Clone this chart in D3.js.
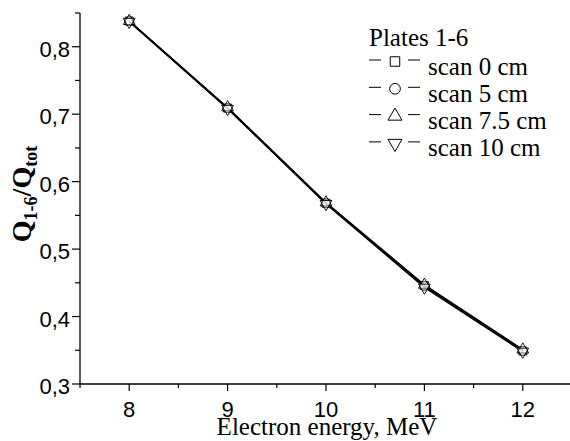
<!DOCTYPE html>
<html><head><meta charset="utf-8">
<script src="https://cdn.jsdelivr.net/npm/d3@7"></script>
<style>body{margin:0;background:#fff}svg{display:block}</style>
</head><body>
<script>
const energies = [8, 9, 10, 11, 12];
const scan0 = [0.838, 0.709, 0.568, 0.446, 0.349];
const scan5 = [0.838, 0.709, 0.568, 0.445, 0.349];
const scan75 = [0.838, 0.710, 0.569, 0.447, 0.351];
const scan10 = [0.837, 0.708, 0.567, 0.443, 0.348];
const seriesNames = ["scan 0 cm", "scan 5 cm", "scan 7.5 cm", "scan 10 cm"];
const xTicks = [8, 9, 10, 11, 12];
const yTicks = [0.3, 0.4, 0.5, 0.6, 0.7, 0.8];

const W = 570, H = 441;
const svg = d3.select("body").append("svg").attr("width", W).attr("height", H);
const x = d3.scaleLinear().domain([7.5, 12.5]).range([80, 572]);
const y = d3.scaleLinear().domain([0.3, 0.85]).range([384, 13]);
const sans = "Liberation Sans, Arial, sans-serif";
const serif = "Liberation Serif, Times New Roman, serif";

// axes
const xAxis = svg.append("g").attr("transform", "translate(0,384)");
xAxis.append("line").attr("x1", 80).attr("x2", 570).attr("stroke", "#000").attr("stroke-width", 1.3);
const xMinor = d3.range(7.5, 12.51, 0.5);
xAxis.selectAll("line.t").data(xMinor).join("line").attr("class", "t")
  .attr("x1", d => x(d)).attr("x2", d => x(d)).attr("y1", 0)
  .attr("y2", d => Number.isInteger(d) ? 7 : 4).attr("stroke", "#000").attr("stroke-width", 1.2);
xAxis.selectAll("text").data(xTicks).join("text")
  .attr("x", d => x(d)).attr("y", 33).attr("text-anchor", "middle")
  .attr("font-family", sans).attr("font-size", 22)
  .text(d => d);

const yAxis = svg.append("g").attr("transform", "translate(80,0)");
yAxis.append("line").attr("y1", 13).attr("y2", 384).attr("stroke", "#000").attr("stroke-width", 1.3);
const yMinor = d3.range(0, 12).map(i => 0.3 + i * 0.05).filter(v => v <= 0.851);
yAxis.selectAll("line.t").data(yMinor).join("line").attr("class", "t")
  .attr("y1", d => y(d)).attr("y2", d => y(d)).attr("x1", 0)
  .attr("x2", (d, i) => i % 2 === 0 ? -8 : -5).attr("stroke", "#000").attr("stroke-width", 1.2);
yAxis.selectAll("text").data(yTicks).join("text")
  .attr("x", -10).attr("y", d => y(d) + 10).attr("text-anchor", "end")
  .attr("font-family", sans).attr("font-size", 22)
  .text(d => d.toFixed(1).replace(".", ","));

// titles
svg.append("text").attr("x", 327).attr("y", 435).attr("text-anchor", "middle")
  .attr("font-family", serif).attr("font-size", 25)
  .text("Electron energy, MeV");
const yt = svg.append("text").attr("transform", "translate(31,194) rotate(-90)")
  .attr("text-anchor", "middle").attr("font-family", serif)
  .attr("font-size", 28).attr("font-weight", "bold");
yt.append("tspan").text("Q");
yt.append("tspan").attr("font-size", 18).attr("dy", 6).text("1-6");
yt.append("tspan").attr("dy", -6).text("/Q");
yt.append("tspan").attr("font-size", 18).attr("dy", 6).text("tot");

// data
const allSeries = [scan0, scan5, scan75, scan10];
const symbols = [d3.symbolSquare, d3.symbolCircle, d3.symbolTriangle, d3.symbolTriangle];
const symSize = [64, 64, 60, 60];
const line = d3.line().x((d, i) => x(energies[i])).y(d => y(d));
allSeries.forEach(s => {
  svg.append("path").datum(s).attr("d", line).attr("fill", "none")
    .attr("stroke", "#000").attr("stroke-width", 1.4);
});
allSeries.forEach((s, k) => {
  const sym = d3.symbol().type(symbols[k]).size(symSize[k]);
  svg.selectAll(null).data(s).join("path")
    .attr("d", sym)
    .attr("transform", (d, i) => `translate(${x(energies[i])},${y(d)})${k === 3 ? " rotate(180)" : ""}`)
    .attr("fill", "#fff").attr("fill-opacity", 0.35).attr("stroke", "#000").attr("stroke-width", 0.9);
});

// legend
const lg = svg.append("g").attr("font-family", serif).attr("font-size", 25);
lg.append("text").attr("x", 369).attr("y", 46).text("Plates 1-6");
seriesNames.forEach((name, k) => {
  const cy = 61.5 + k * 27.3;
  const g = lg.append("g");
  g.append("line").attr("x1", 369).attr("x2", 381).attr("y1", cy - 1.5).attr("y2", cy - 1.5).attr("stroke", "#000").attr("stroke-width", 1);
  g.append("line").attr("x1", 408).attr("x2", 420).attr("y1", cy - 1.5).attr("y2", cy - 1.5).attr("stroke", "#000").attr("stroke-width", 1);
  g.append("path").attr("d", d3.symbol().type(symbols[k]).size(k < 2 ? 90 : 85))
    .attr("transform", `translate(395,${cy})${k === 3 ? " rotate(180)" : ""}`)
    .attr("fill", "#fff").attr("stroke", "#000").attr("stroke-width", 1);
  g.append("text").attr("x", 428).attr("y", cy + 13).text(name);
});
</script>
</body></html>
